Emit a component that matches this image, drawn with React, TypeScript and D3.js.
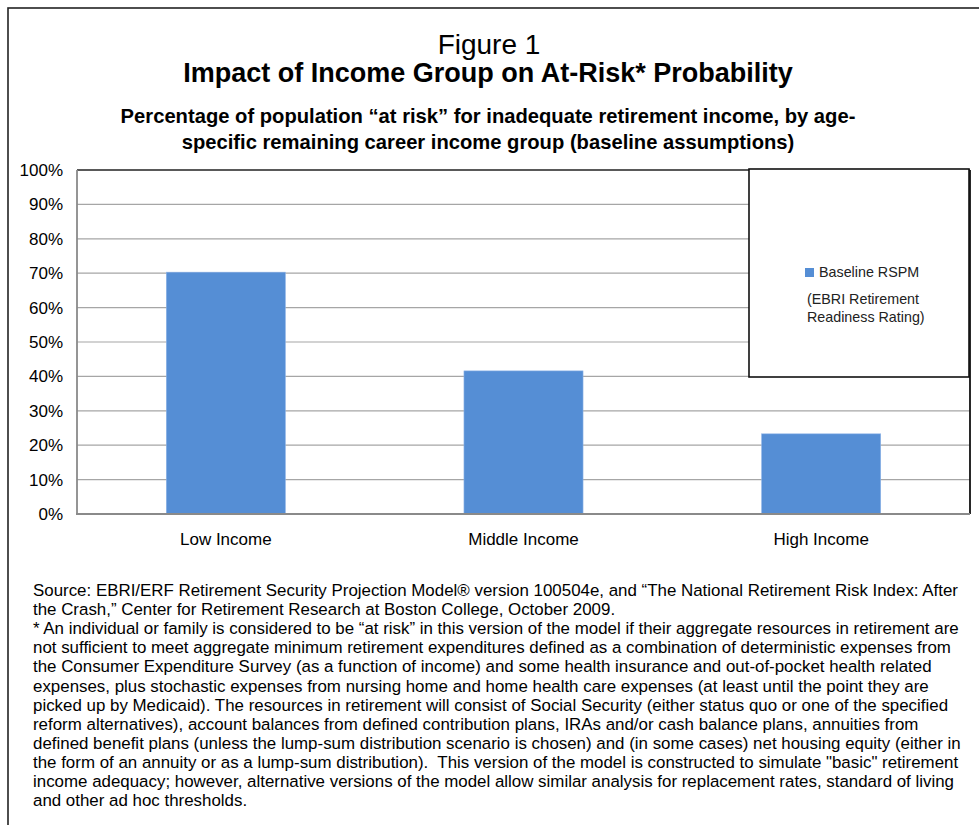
import React from "react";
import * as d3 from "d3";

// Share of population "at risk", by remaining career income group
const categories = ["Low Income", "Middle Income", "High Income"];
const atRiskPct = [70.3, 41.6, 23.3];
const yTicks = [0, 10, 20, 30, 40, 50, 60, 70, 80, 90, 100];

const seriesName = "Baseline RSPM";
const seriesNote = ["(EBRI Retirement", "Readiness Rating)"];

const figureLabel = "Figure 1";
const titleText = "Impact of Income Group on At-Risk* Probability";
const subtitleLines = [
  "Percentage of population \u201cat risk\u201d for inadequate retirement income, by age-",
  "specific remaining career income group (baseline assumptions)",
];

const footnoteLines = [
  "Source: EBRI/ERF Retirement Security Projection Model\u00ae version 100504e, and \u201cThe National Retirement Risk Index: After",
  "the Crash,\u201d Center for Retirement Research at Boston College, October 2009.",
  "* An individual or family is considered to be \u201cat risk\u201d in this version of the model if their aggregate resources in retirement are",
  "not sufficient to meet aggregate minimum retirement expenditures defined as a combination of deterministic expenses from",
  "the Consumer Expenditure Survey (as a function of income) and some health insurance and out-of-pocket health related",
  "expenses, plus stochastic expenses from nursing home and home health care expenses (at least until the point they are",
  "picked up by Medicaid). The resources in retirement will consist of Social Security (either status quo or one of the specified",
  "reform alternatives), account balances from defined contribution plans, IRAs and/or cash balance plans, annuities from",
  "defined benefit plans (unless the lump-sum distribution scenario is chosen) and (in some cases) net housing equity (either in",
  "the form of an annuity or as a lump-sum distribution).  This version of the model is constructed to simulate \"basic\" retirement",
  "income adequacy; however, alternative versions of the model allow similar analysis for replacement rates, standard of living",
  "and other ad hoc thresholds.",
];

const W = 979;
const H = 825;
const plot = { left: 77, right: 970, top: 170, bottom: 514 };
const font = "'Liberation Sans', Arial, Helvetica, sans-serif";
const barColor = "#558ed5";

export default function App() {
  const x = d3
    .scaleBand<string>()
    .domain(categories)
    .range([plot.left, plot.right])
    .paddingInner(0.6)
    .paddingOuter(0.3);
  const y = d3.scaleLinear().domain([0, 100]).range([plot.bottom, plot.top]);
  const fmt = (v: number) => `${v}%`;

  return (
    <svg
      width={W}
      height={H}
      viewBox={`0 0 ${W} ${H}`}
      style={{ position: "absolute", left: 0, top: 0, background: "#fff" }}
      fontFamily={font}
    >
      {/* outer frame */}
      <rect x={8} y={8} width={W + 10} height={H + 10} fill="#fff" stroke="#222" strokeWidth={1.6} />

      {/* headings */}
      <text x={489} y={54} textAnchor="middle" fontSize={28} fill="#000">
        {figureLabel}
      </text>
      <text x={488} y={82} textAnchor="middle" fontSize={27} fontWeight="bold" fill="#000">
        {titleText}
      </text>
      {subtitleLines.map((s, i) => (
        <text key={i} x={488} y={123 + i * 26} textAnchor="middle" fontSize={20.2} fontWeight="bold" fill="#000">
          {s}
        </text>
      ))}

      {/* gridlines */}
      {yTicks.slice(1, -1).map((t) => (
        <line key={t} x1={plot.left} x2={plot.right} y1={y(t)} y2={y(t)} stroke="#a6a6a6" strokeWidth={1.2} />
      ))}
      <line x1={plot.left} x2={plot.right} y1={y(100)} y2={y(100)} stroke="#222" strokeWidth={1.4} />
      <line x1={plot.right} x2={plot.right} y1={plot.top} y2={plot.bottom} stroke="#111" strokeWidth={1.8} />

      {/* bars */}
      {categories.map((c, i) => (
        <rect
          key={c}
          x={x(c)}
          y={y(atRiskPct[i])}
          width={x.bandwidth()}
          height={y(0) - y(atRiskPct[i])}
          fill={barColor}
          stroke="#8db3e6"
          strokeWidth={0.6}
        />
      ))}

      {/* axes */}
      <line x1={plot.left} x2={plot.left} y1={plot.top} y2={plot.bottom} stroke="#8a8a8a" strokeWidth={1.8} />
      <line x1={plot.left - 1} x2={plot.right} y1={plot.bottom} y2={plot.bottom} stroke="#8a8a8a" strokeWidth={2} />

      {yTicks.map((t) => (
        <text key={t} x={63} y={y(t) + 6} textAnchor="end" fontSize={17} fill="#000">
          {fmt(t)}
        </text>
      ))}
      {categories.map((c) => (
        <text key={c} x={(x(c) as number) + x.bandwidth() / 2} y={545} textAnchor="middle" fontSize={17} fill="#000">
          {c}
        </text>
      ))}

      {/* legend */}
      <rect x={749} y={169} width={220} height={208} fill="#fff" stroke="#111" strokeWidth={1.6} />
      <rect x={805} y={268} width={9} height={9} fill={barColor} />
      <text x={819} y={277} fontSize={14.3} fill="#222">
        {seriesName}
      </text>
      {seriesNote.map((s, i) => (
        <text key={i} x={807} y={304 + i * 18} fontSize={14.3} fill="#222">
          {s}
        </text>
      ))}

      {/* source and footnote */}
      {footnoteLines.map((s, i) => (
        <text key={i} x={33} y={596 + i * 19.1} fontSize={16.9} fill="#000" style={{ whiteSpace: "pre" }}>
          {s}
        </text>
      ))}
    </svg>
  );
}
